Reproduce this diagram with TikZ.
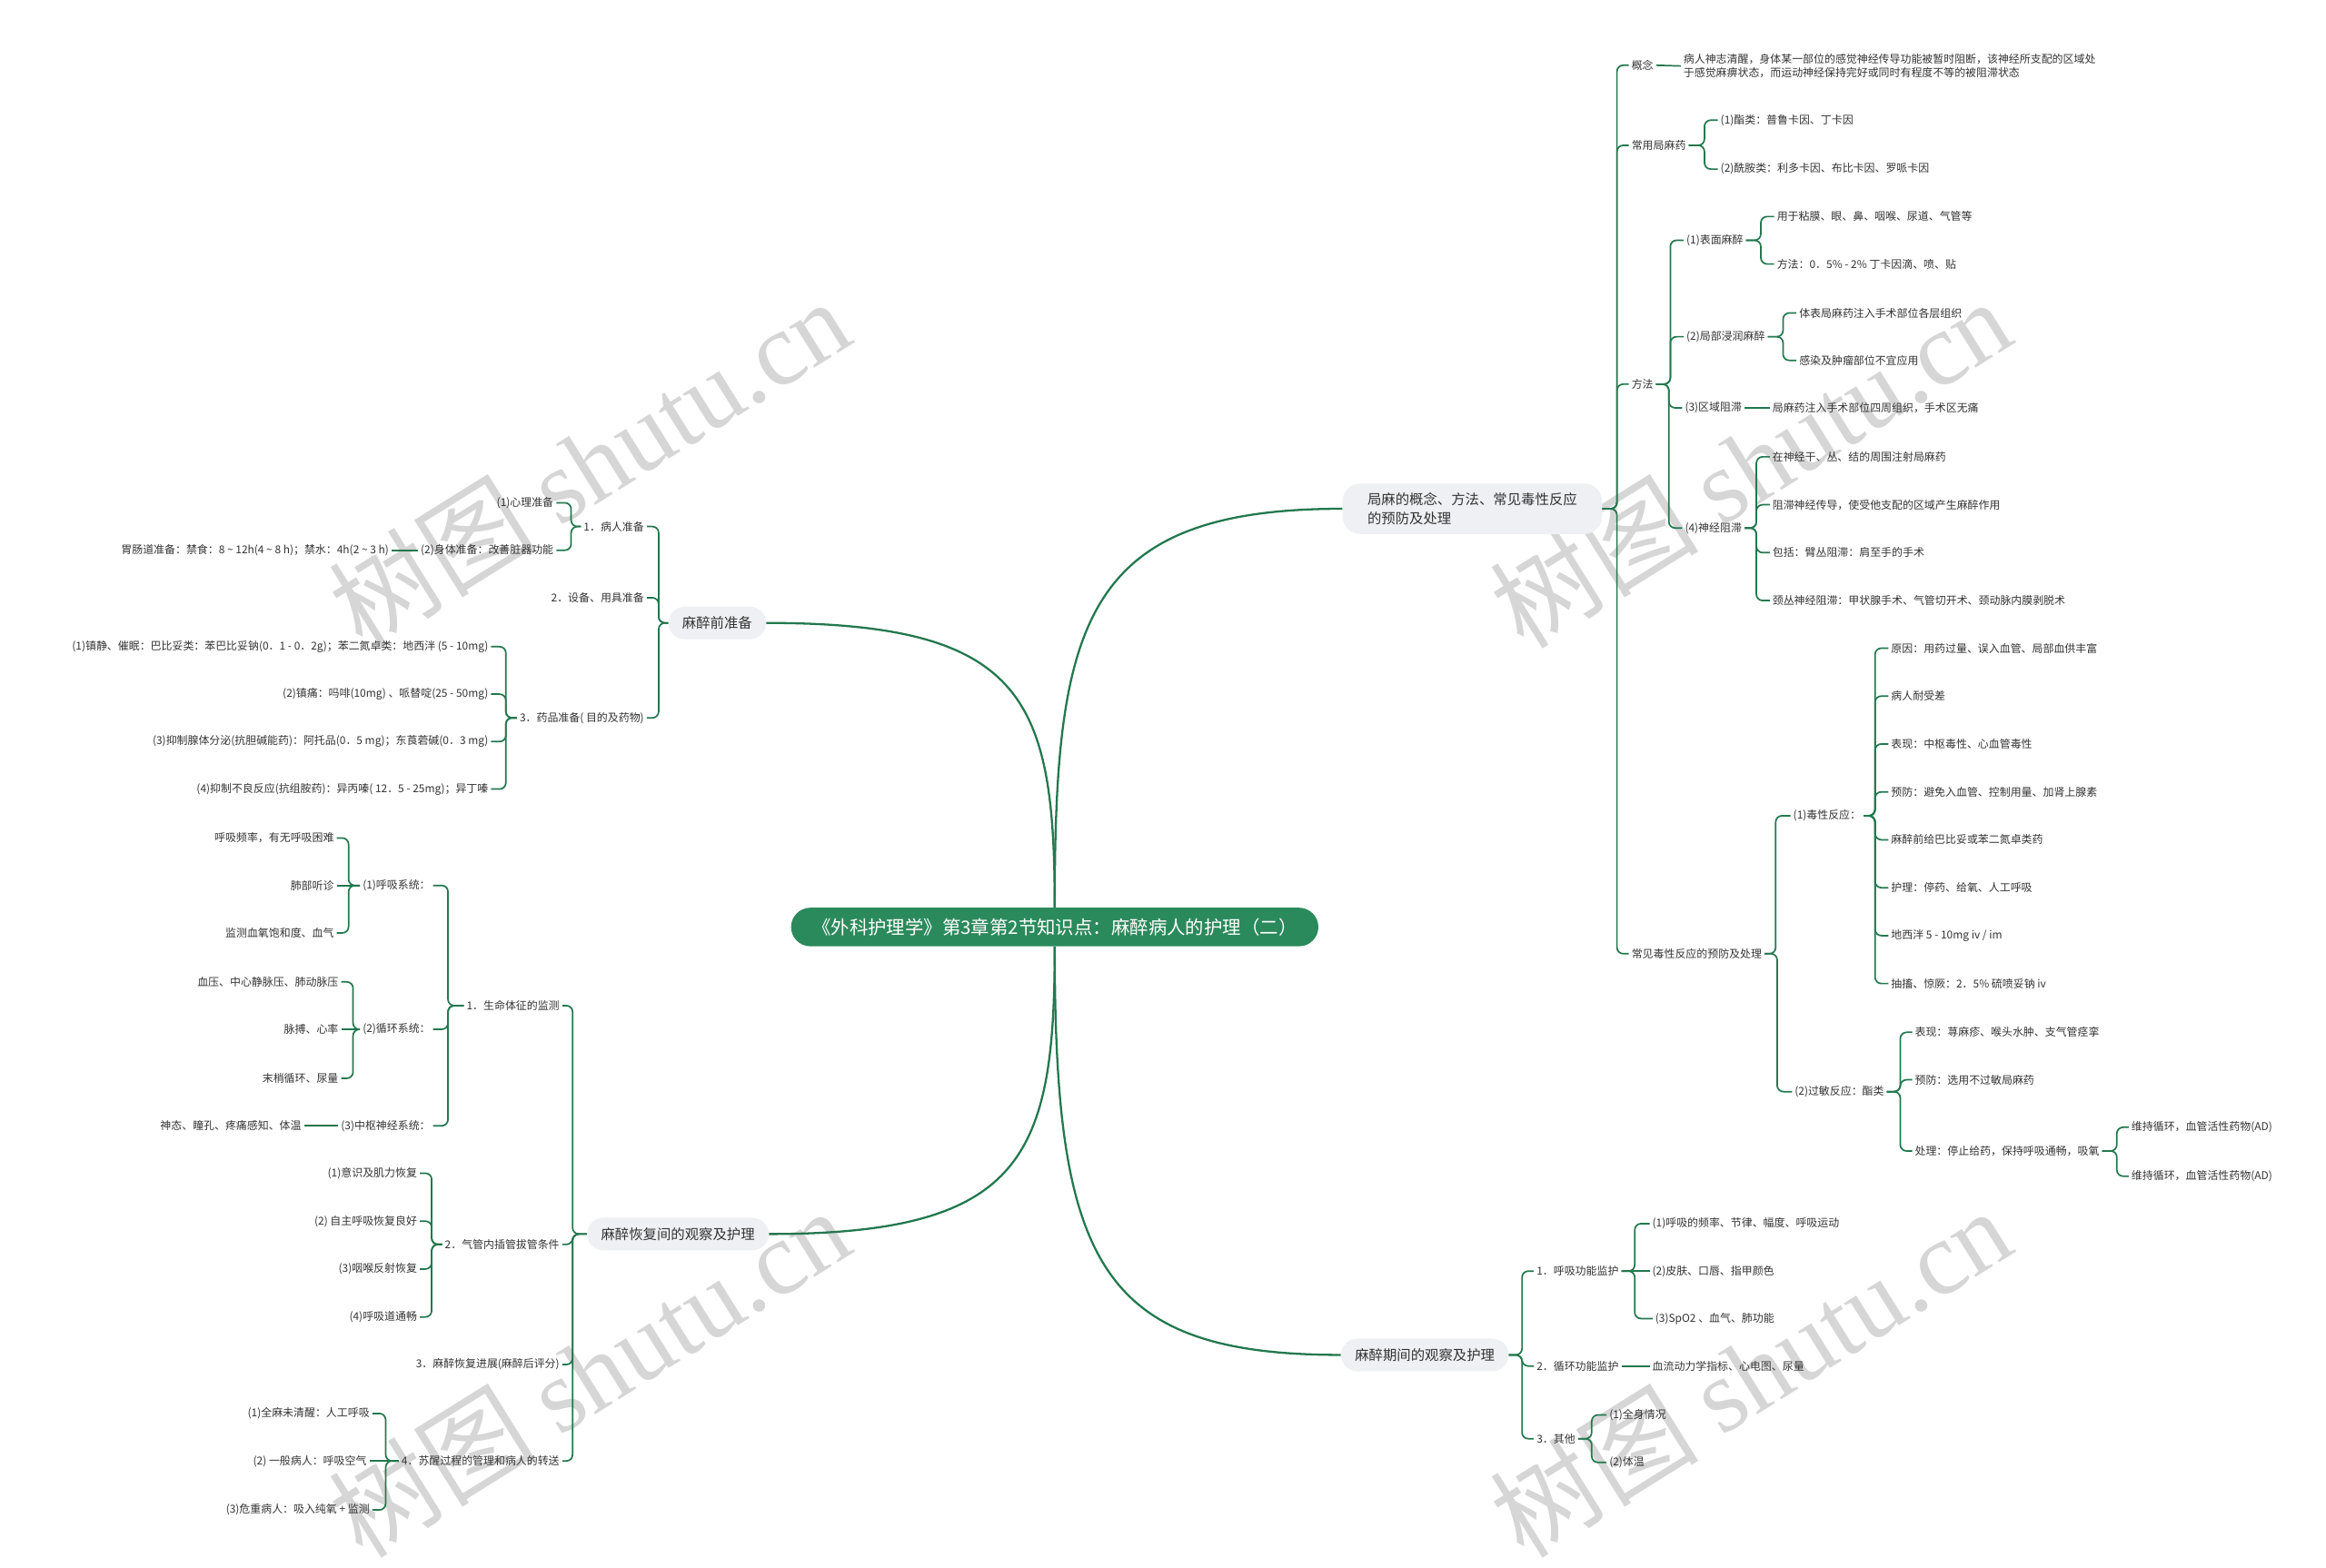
\documentclass[tikz,border=0pt]{standalone}
\usepackage{fontspec}
\setmainfont{Noto Sans CJK SC}
\newfontfamily\wmfont{Liberation Serif}
\usetikzlibrary{positioning}
\definecolor{branch}{HTML}{23784E}
\definecolor{hubc}{HTML}{2B8A5C}
\definecolor{topicc}{HTML}{EEF0F3}
\definecolor{ink}{HTML}{333333}
\definecolor{wmc}{HTML}{D6D6D6}
\tikzset{
  hub/.style={fill=hubc, text=white, rounded corners=0.65cm, minimum height=1.3cm,
              inner xsep=0.72cm, font=\fontsize{17.8}{20}\selectfont},
  topic/.style={fill=topicc, text=ink, rounded corners=0.55cm, minimum height=1.1cm,
                inner xsep=0.47cm, font=\fontsize{13.4}{18.4}\selectfont},
  leaf/.style={text=ink, inner xsep=2.5pt, inner ysep=1pt, font=\fontsize{10.4}{12.8}\selectfont},
  link/.style={draw=branch, line width=1.5pt, rounded corners=6pt},
  trunk/.style={draw=branch, line width=2pt},
  wmark/.style={text=wmc, rotate=32, inner sep=0pt, font=\fontsize{100}{100}\selectfont},
}
% child to parent through a bracket, gap measured from the child
\newcommand{\linkR}[3][9]{\draw[link] (#3.west) -- ++(-#1,0) |- (#2.east);}
\newcommand{\linkL}[3][9]{\draw[link] (#3.east) -- ++(#1,0) |- (#2.west);}

\begin{document}
\begin{tikzpicture}[x=0.05cm, y=-0.05cm]
\useasboundingbox (0,0) rectangle (1568,1057);

% watermark
\foreach \p [count=\i] in {(397,312),(1180,312),(397,925),(1180,925)} {
  \node[wmark] (wm\i) at \p {树图 {\wmfont shutu.cn}};
}

% root and the four topics
\node[hub] (root) at (711,625) {《外科护理学》第3章第2节知识点：麻醉病人的护理（二）};
\node[topic, align=left, minimum width=8.75cm, minimum height=1.7cm, rounded corners=0.6cm] (jm) at (992.5,343) {局麻的概念、方法、常见毒性反应\\的预防及处理};
\node[topic] (pre) at (483.5,420) {麻醉前准备};
\node[topic] (rec) at (457,832) {麻醉恢复间的观察及护理};
\node[topic] (dur) at (960.5,913.5) {麻醉期间的观察及护理};

\draw[trunk] (root.north) .. controls (711,420) and (730,343) .. (jm.west);
\draw[trunk] (root.north) .. controls (711,470) and (690,420) .. (pre.east);
\draw[trunk] (root.south) .. controls (711,780) and (690,832) .. (rec.east);
\draw[trunk] (root.south) .. controls (711,850) and (740,913.5) .. (dur.west);

% local anaesthesia
\node[leaf, anchor=west] (gn) at (1098,44) {概念};
\node[leaf, anchor=west, align=left] (def) at (1133,44.5) {病人神志清醒，身体某一部位的感觉神经传导功能被暂时阻断，该神经所支配的区域处\\于感觉麻痹状态，而运动神经保持完好或同时有程度不等的被阻滞状态};
\draw[link] (gn.east) -- (def.west);
\node[leaf, anchor=west] (yao) at (1098,98) {常用局麻药};
\node[leaf, anchor=west] (ff) at (1098,259) {方法};
\node[leaf, anchor=west] (dx) at (1098,643) {常见毒性反应的预防及处理};
\foreach \c in {gn,yao,ff,dx} { \linkR[8]{jm}{\c} }

\node[leaf, anchor=west] (yao1) at (1158,81) {(1)酯类：普鲁卡因、丁卡因};
\node[leaf, anchor=west] (yao2) at (1158,114) {(2)酰胺类：利多卡因、布比卡因、罗哌卡因};
\linkR{yao}{yao1} \linkR{yao}{yao2}

\node[leaf, anchor=west] (bm) at (1135,162) {(1)表面麻醉};
\node[leaf, anchor=west] (jb) at (1135,227) {(2)局部浸润麻醉};
\node[leaf, anchor=west] (qy) at (1134,275) {(3)区域阻滞};
\node[leaf, anchor=west] (sj) at (1134,356) {(4)神经阻滞};
\foreach \c in {bm,jb,qy,sj} { \linkR{ff}{\c} }

\node[leaf, anchor=west] (bm1) at (1196,146) {用于粘膜、眼、鼻、咽喉、尿道、气管等};
\node[leaf, anchor=west] (bm2) at (1196,178) {方法：0．5\%  - 2\% 丁卡因滴、喷、贴};
\linkR{bm}{bm1} \linkR{bm}{bm2}
\node[leaf, anchor=west] (jb1) at (1211,211) {体表局麻药注入手术部位各层组织};
\node[leaf, anchor=west] (jb2) at (1211,243) {感染及肿瘤部位不宜应用};
\linkR{jb}{jb1} \linkR{jb}{jb2}
\node[leaf, anchor=west] (qy1) at (1193,275) {局麻药注入手术部位四周组织，手术区无痛};
\draw[link] (qy.east) -- (qy1.west);
\foreach \t [count=\i] in {{在神经干、丛、结的周围注射局麻药},{阻滞神经传导，使受他支配的区域产生麻醉作用},{包括：臂丛阻滞：肩至手的手术},{颈丛神经阻滞：甲状腺手术、气管切开术、颈动脉内膜剥脱术}} {
  \node[leaf, anchor=west] (sj\i) at (1193,{308+32.3*(\i-1)}) {\t};
  \linkR{sj}{sj\i}
}

% toxic and allergic reactions
\node[leaf, anchor=west] (du) at (1207,550) {(1)毒性反应：};
\node[leaf, anchor=west] (gm) at (1208,736) {(2)过敏反应：酯类};
\linkR[10]{dx}{du} \linkR[10]{dx}{gm}
\foreach \t [count=\i] in {{原因：用药过量、误入血管、局部血供丰富},{病人耐受差},{表现：中枢毒性、心血管毒性},{预防：避免入血管、控制用量、加肾上腺素},{麻醉前给巴比妥或苯二氮卓类药},{护理：停药、给氧、人工呼吸},{地西泮 5  - 10mg iv / im},{抽搐、惊厥：2．5\% 硫喷妥钠 iv}} {
  \node[leaf, anchor=west] (du\i) at (1273,{437+32.3*(\i-1)}) {\t};
  \linkR{du}{du\i}
}
\node[leaf, anchor=west] (gm1) at (1289,696) {表现：荨麻疹、喉头水肿、支气管痉挛};
\node[leaf, anchor=west] (gm2) at (1289,728) {预防：选用不过敏局麻药};
\node[leaf, anchor=west] (gm3) at (1289,776) {处理：停止给药，保持呼吸通畅，吸氧};
\foreach \c in {gm1,gm2,gm3} { \linkR[8]{gm}{\c} }
\node[leaf, anchor=west] (cl1) at (1435,760) {维持循环，血管活性药物(AD)};
\node[leaf, anchor=west] (cl2) at (1435,793) {维持循环，血管活性药物(AD)};
\linkR[8]{gm3}{cl1} \linkR[8]{gm3}{cl2}

% during anaesthesia
\node[leaf, anchor=west] (hx) at (1034,857) {1．呼吸功能监护};
\node[leaf, anchor=west] (xh) at (1034,921) {2．循环功能监护};
\node[leaf, anchor=west] (qt) at (1034,970) {3．其他};
\foreach \c in {hx,xh,qt} { \linkR[8]{dur}{\c} }
\node[leaf, anchor=west] (hx1) at (1112,825) {(1)呼吸的频率、节律、幅度、呼吸运动};
\node[leaf, anchor=west] (hx2) at (1112,857) {(2)皮肤、口唇、指甲颜色};
\node[leaf, anchor=west] (hx3) at (1114,889) {(3)SpO2 、血气、肺功能};
\linkR[10]{hx}{hx1} \linkR[12]{hx}{hx3}
\draw[link] (hx.east) -- (hx2.west);
\node[leaf, anchor=west] (xh1) at (1112,921) {血流动力学指标、心电图、尿量};
\draw[link] (xh.east) -- (xh1.west);
\node[leaf, anchor=west] (qt1) at (1083,954) {(1)全身情况};
\node[leaf, anchor=west] (qt2) at (1083,986) {(2)体温};
\linkR[10]{qt}{qt1} \linkR[10]{qt}{qt2}

% before anaesthesia
\node[leaf, anchor=east] (br) at (436,355) {1．病人准备};
\node[leaf, anchor=east] (sb) at (436,403) {2．设备、用具准备};
\node[leaf, anchor=east] (yp) at (436,484) {3．药品准备( 目的及药物)};
\foreach \c in {br,sb,yp} { \linkL[8]{pre}{\c} }
\node[leaf, anchor=east] (xl) at (375,339) {(1)心理准备};
\node[leaf, anchor=east] (st) at (375,371) {(2)身体准备：改善脏器功能};
\linkL[10]{br}{xl} \linkL[10]{br}{st}
\node[leaf, anchor=east] (wc) at (264,371) {胃肠道准备：禁食：8 \textasciitilde{} 12h(4 \textasciitilde{} 8 h)；禁水：4h(2 \textasciitilde{} 3 h)};
\draw[link] (st.west) -- (wc.east);
\foreach \t [count=\i] in {{(1)镇静、催眠：巴比妥类：苯巴比妥钠(0．1 - 0．2g)；苯二氮卓类：地西泮 (5 - 10mg)},{(2)镇痛：吗啡(10mg) 、哌替啶(25 - 50mg)},{(3)抑制腺体分泌(抗胆碱能药)：阿托品(0．5 mg)；东莨菪碱(0．3 mg)},{(4)抑制不良反应(抗组胺药)：异丙嗪( 12．5 - 25mg)；异丁嗪}} {
  \node[leaf, anchor=east] (yp\i) at (331,{436+32*(\i-1)}) {\t};
  \linkL[10]{yp}{yp\i}
}

% recovery room
\node[leaf, anchor=east] (sm) at (379,678) {1．生命体征的监测};
\node[leaf, anchor=east] (bg) at (379,839) {2．气管内插管拔管条件};
\node[leaf, anchor=east] (hf) at (379,920) {3．麻醉恢复进展(麻醉后评分)};
\node[leaf, anchor=east] (sx) at (379,985) {4．苏醒过程的管理和病人的转送};
\foreach \c in {sm,bg,hf,sx} { \linkL[7]{rec}{\c} }

\node[leaf, anchor=east] (hxx) at (292,597) {(1)呼吸系统：};
\node[leaf, anchor=east] (xhx) at (292,694) {(2)循环系统：};
\node[leaf, anchor=east] (zs) at (292,759) {(3)中枢神经系统：};
\foreach \c in {hxx,xhx,zs} { \linkL[10]{sm}{\c} }
\node[leaf, anchor=east] (hxx1) at (227,565) {呼吸频率，有无呼吸困难};
\node[leaf, anchor=east] (hxx2) at (227,597) {肺部听诊};
\node[leaf, anchor=east] (hxx3) at (227,629) {监测血氧饱和度、血气};
\linkL[8]{hxx}{hxx1} \linkL[8]{hxx}{hxx3}
\draw[link] (hxx2.east) -- (hxx.west);
\node[leaf, anchor=east] (xhx1) at (230,662) {血压、中心静脉压、肺动脉压};
\node[leaf, anchor=east] (xhx2) at (230,694) {脉搏、心率};
\node[leaf, anchor=east] (xhx3) at (230,727) {末梢循环、尿量};
\linkL[8]{xhx}{xhx1} \linkL[8]{xhx}{xhx3}
\draw[link] (xhx2.east) -- (xhx.west);
\node[leaf, anchor=east] (zs1) at (205,759) {神态、瞳孔、疼痛感知、体温};
\draw[link] (zs1.east) -- (zs.west);

\foreach \t [count=\i] in {{(1)意识及肌力恢复},{(2) 自主呼吸恢复良好},{(3)咽喉反射恢复},{(4)呼吸道通畅}} {
  \node[leaf, anchor=east] (bg\i) at (283,{791+32.3*(\i-1)}) {\t};
  \linkL[8]{bg}{bg\i}
}
\node[leaf, anchor=east] (sx1) at (251,953) {(1)全麻未清醒：人工呼吸};
\node[leaf, anchor=east] (sx2) at (249,985) {(2) 一般病人：呼吸空气};
\node[leaf, anchor=east] (sx3) at (251,1018) {(3)危重病人：吸入纯氧 + 监测};
\linkL[9]{sx}{sx1} \linkL[9]{sx}{sx3}
\draw[link] (sx2.east) -- (sx.west);
\end{tikzpicture}
\end{document}
